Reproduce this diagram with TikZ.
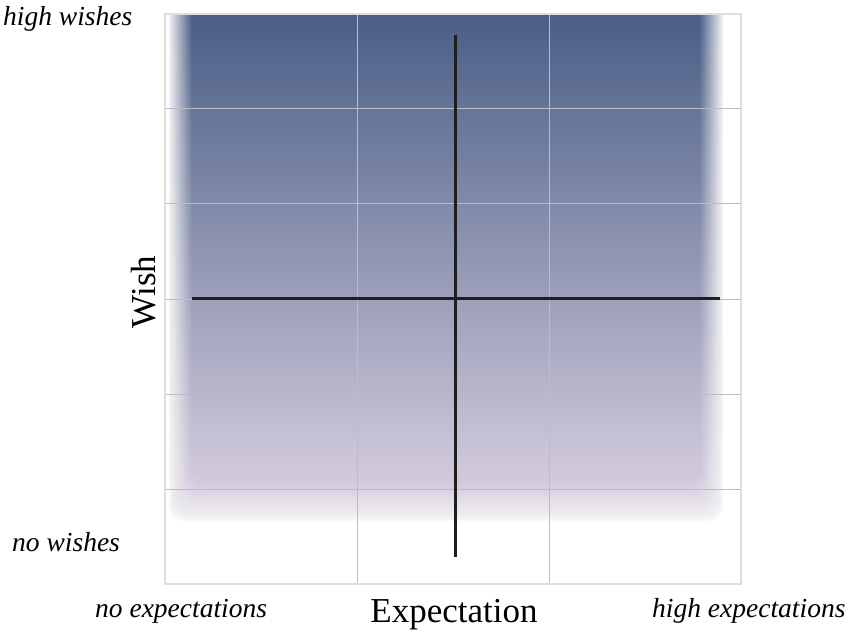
\documentclass[tikz,border=0pt]{standalone}
\usepackage{fontspec}
\setmainfont{Liberation Serif}
\definecolor{gtop}{RGB}{74,94,134}
\definecolor{gmid}{RGB}{134,140,172}
\definecolor{gbot}{RGB}{222,212,228}
\definecolor{gridgray}{RGB}{188,188,196}
\definecolor{framegray}{RGB}{222,222,222}
\definecolor{axisblack}{RGB}{30,30,30}
\begin{document}
\begin{tikzpicture}[x=1pt,y=1pt,
  gridline/.style={draw=gridgray, line width=1pt},
  frameline/.style={draw=framegray, line width=2pt},
  axisline/.style={draw=axisblack, line width=3pt},
  cornerlabel/.style={font=\fontsize{27.5}{30}\selectfont\itshape, inner sep=0pt},
  axislabel/.style={font=\fontsize{35}{40}\selectfont, inner sep=0pt}]
\useasboundingbox (0,0) rectangle (854,633);
\fill[white] (0,0) rectangle (854,633);
% blurred gradient field
\begin{scope}
  \clip (165,49) rectangle (741,619);
  \fill[top color=gtop, middle color=gmid, bottom color=gbot] (165,110) rectangle (741,619);
  \foreach \k in {1,...,30}{
    \pgfmathsetmacro{\ins}{(\k-1)*23/29}
    \pgfmathsetmacro{\insb}{(\k-1)*36/29}
    \pgfmathsetmacro{\op}{1/\k}
    \fill[white, fill opacity=\op, even odd rule] (150,30) rectangle (760,640)
      [rounded corners=16pt] (169+\ins,112+\insb) rectangle (723-\ins,680);
  }
\end{scope}
% grid
\foreach \y in {144,239,334,429,524} \draw[gridline] (165,\y) -- (741,\y);
\foreach \x in {357,549} \draw[gridline] (\x,49) -- (\x,619);
\draw[frameline] (165,49) rectangle (741,619);
% axes
\coordinate (vtop) at (455,598);
\coordinate (vbot) at (455,76);
\coordinate (hleft) at (192,335);
\coordinate (hright) at (720,335);
\draw[axisline] (vtop) -- (vbot);
\draw[axisline] (hleft) -- (hright);
% labels
\node[cornerlabel, anchor=base west] (hw) at (3,607) {high wishes};
\node[cornerlabel, anchor=base west] (nw) at (12,82) {no wishes};
\node[cornerlabel, anchor=base west] (ne) at (95,16) {no expectations};
\node[cornerlabel, anchor=base west] (he) at (652,16) {high expectations};
\node[axislabel, anchor=base] (exp) at (454,11) {Expectation};
\node[axislabel, anchor=base, rotate=90] (wish) at (155,341) {Wish};
\end{tikzpicture}
\end{document}
